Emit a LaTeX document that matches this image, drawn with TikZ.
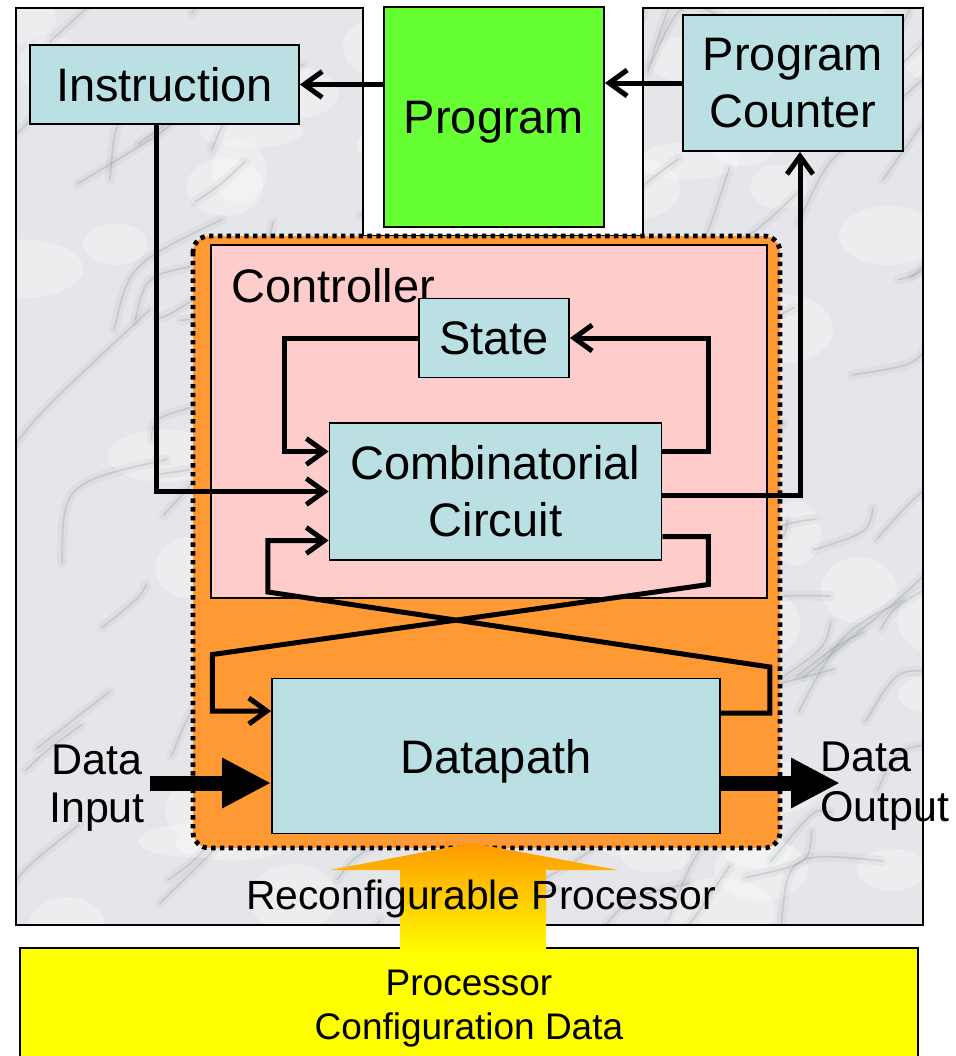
\documentclass[tikz,border=0pt]{standalone}
\usepackage{fontspec}
\setmainfont{Liberation Sans}
\usepackage{xcolor}
\definecolor{BlockCyan}{HTML}{BAE0E3}
\definecolor{ProgGreen}{HTML}{66FF33}
\definecolor{ProcOrange}{HTML}{FF9933}
\definecolor{CtrlPink}{HTML}{FFCCCC}
\definecolor{CfgYellow}{HTML}{FFFF00}
\definecolor{CfgOrange}{HTML}{FF9900}
\definecolor{MarbleGray}{HTML}{E4E6E9}
\definecolor{VeinGray}{HTML}{7E8288}
\usepackage{tikz}
\usetikzlibrary{arrows.meta, calc}

\begin{document}
\begin{tikzpicture}[x=0.5pt, y=-0.5pt,
  block/.style={draw=black, line width=0.9pt, fill=BlockCyan, inner sep=0pt,
    align=center, font=\fontsize{23.5}{28.5}\selectfont},
  wire/.style={line width=2.5pt, -{Straight Barb[length=9pt, width=13pt]}},
  fat/.style={line width=7.5pt, -{Triangle[length=24.5pt, width=23.5pt]}},
  veinsoft/.style={VeinGray, line width=5pt, line cap=round, opacity=0.07},
  vein/.style={VeinGray, line width=0.9pt, line cap=round, opacity=0.22}]
  \useasboundingbox (0,0) rectangle (956,1056);
  \fill[white] (0,0) rectangle (956,1056);

  %% marble panel
  \fill[MarbleGray] (16,8) -- (363,8) -- (363,236) -- (643,236) -- (643,8)
    -- (923,8) -- (923,925) -- (16,925) -- cycle;
  \begin{scope}
    \clip (16,8) -- (363,8) -- (363,236) -- (643,236) -- (643,8)
      -- (923,8) -- (923,925) -- (16,925) -- cycle;
    \pgfmathsetseed{17}
    \foreach \i in {1,...,60}{
      \pgfmathsetmacro{\ax}{rnd*940}
      \pgfmathsetmacro{\ay}{rnd*930}
      \fill[white, opacity=0.3] (\ax,\ay) ellipse [x radius={25+rnd*35}, y radius={15+rnd*20}];
    }
    \foreach \i in {1,...,110}{
      \pgfmathsetmacro{\ax}{rnd*960}
      \pgfmathsetmacro{\ay}{rnd*1000}
      \pgfmathsetmacro{\dl}{40+rnd*110}
      \pgfmathsetmacro{\bx}{\ax+\dl}
      \pgfmathsetmacro{\by}{\ay-\dl*(0.5+rnd*0.6)}
      \pgfmathsetmacro{\cx}{\ax+\dl*rnd}
      \pgfmathsetmacro{\cy}{\ay-\dl*rnd}
      \draw[veinsoft] (\ax,\ay) .. controls (\cx,\cy) .. (\bx,\by);
      \draw[vein] (\ax,\ay) .. controls (\cx,\cy) .. (\bx,\by);
    }
  \end{scope}
  \draw[line width=0.8pt] (16,8) -- (363,8) -- (363,236) -- (643,236) -- (643,8)
    -- (923,8) -- (923,925) -- (16,925) -- cycle;

  %% processor and controller areas
  \draw[fill=ProcOrange, line width=2.4pt, dash pattern=on 2.2pt off 2.2pt,
    rounded corners=8pt] (193,236) rectangle (780,848);
  \draw[fill=CtrlPink, line width=0.8pt] (211,245) rectangle (767,598);
  \node[anchor=base west, inner sep=0pt, font=\fontsize{23.5}{28.5}\selectfont]
    (ctrl) at (231,302) {Controller};

  %% blocks
  \node[block, minimum width=134.5pt, minimum height=39.5pt] (instr) at (164.5,84.5) {Instruction};
  \node[block, fill=ProgGreen, minimum width=110pt, minimum height=110pt, text depth=0pt] (prog) at (494,117) {Program};
  \node[block, minimum width=110pt, minimum height=68pt] (pc) at (793,83) {Program\\Counter};
  \node[block, minimum width=75pt, minimum height=39.5pt] (state) at (494,338) {State};
  \node[block, minimum width=166pt, minimum height=68.5pt] (comb) at (495.5,491.5) {Combinatorial\\Circuit};
  \node[block, minimum width=224pt, minimum height=77.5pt, text depth=0pt] (data) at (496,756) {Datapath};

  %% connectors
  \draw[wire] (prog.west |- instr.east) -- (instr.east);
  \draw[wire] (pc.west) -- (pc.west -| prog.east);
  \draw[wire] ([xshift=-4pt]instr.south) |- (comb.west);
  \draw[wire] ([yshift=-2pt]comb.east) -| ([xshift=3.5pt]pc.south);
  \draw[wire] ([yshift=20pt]comb.east) -- ++(46,0) |- (state.east);
  \draw[wire] (state.west) -- ++(-134,0) |- ([yshift=20pt]comb.west);
  \draw[wire] ([yshift=-22.5pt]comb.east) -- ++(46,0) -- ++(0,48)
    -- ++(-496,70) |- ([yshift=22.5pt]data.west);
  \draw[wire] ([yshift=21.5pt]data.east) -- ++(49,0) -- ++(0,-46)
    -- ++(-502,-75) |- ([yshift=-24.5pt]comb.west);

  %% data in / out
  \coordinate (din) at (150,783);
  \coordinate (dout) at (840,783);
  \draw[fat] (din) -- (din -| data.west);
  \draw[fat] (dout -| data.east) -- (dout);
  \node[align=center, inner sep=0pt, font=\fontsize{21.5}{24}\selectfont]
    (dinlbl) at (97,788) {Data\\Input};
  \node[anchor=west, align=left, inner sep=0pt, font=\fontsize{21.5}{25}\selectfont]
    (doutlbl) at (820,786) {Data\\Output};

  %% configuration data
  \node[draw=black, line width=0.9pt, fill=CfgYellow, minimum width=449pt,
    minimum height=61pt, align=center, font=\fontsize{18.5}{22}\selectfont]
    (cfg) at (469,1009) {Processor\\Configuration Data};
  \shade[top color=CfgOrange, bottom color=CfgYellow] (400,954) -- (400,870)
    -- (330,870) -- (472,843) -- (618,870) -- (546,870) -- (546,954) -- cycle;
  \node[inner sep=0pt, font=\fontsize{20.4}{24}\selectfont] (rp) at (481,899)
    {Reconfigurable Processor};
\end{tikzpicture}
\end{document}
